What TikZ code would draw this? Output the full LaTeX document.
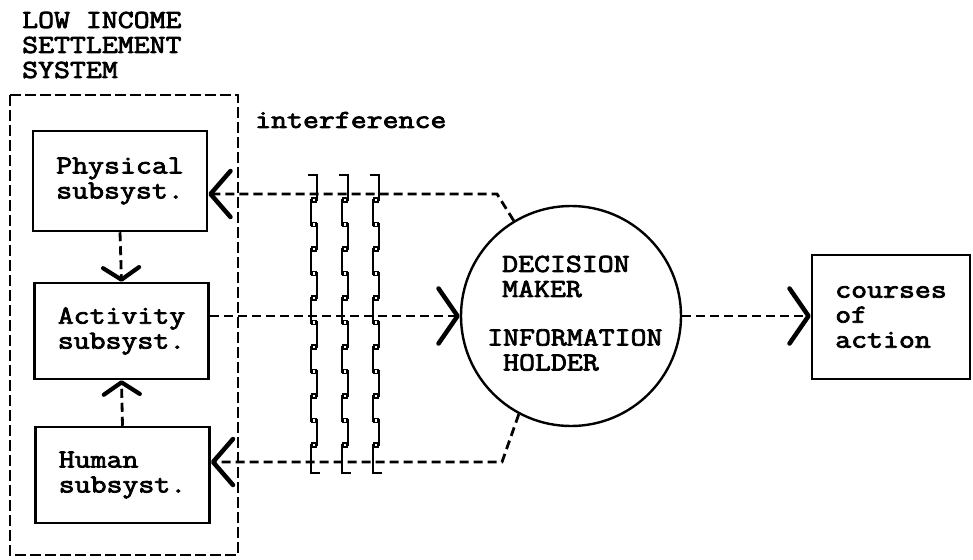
\documentclass[tikz,border=0pt]{standalone}
\usepackage{fontspec}
\newfontfamily\tw{Latin Modern Mono}[FakeStretch=1.19,FakeBold=3]
\usetikzlibrary{arrows.meta}
\begin{document}
\begin{tikzpicture}[x=1pt,y=-1pt,
  twf/.style={font=\tw\fontsize{26pt}{25pt}\selectfont},
  lbl/.style={twf, inner sep=0pt, align=left, anchor=west},
  sbox/.style={draw, line width=2.5pt, minimum width=174pt, inner sep=0pt, twf, align=left},
  conn/.style={line width=2.8pt, dash pattern=on 9pt off 5pt},
  strip/.style={line width=2.8pt, line join=miter},
  tipL/.style={-{Straight Barb[length=20pt,width=46pt,line width=4.5pt,round]}},
  tipC/.style={-{Straight Barb[length=19pt,width=55pt,line width=4.5pt,round]}},
  tipV/.style={-{Straight Barb[length=12pt,width=36pt,line width=4.2pt,round]}}
]
\useasboundingbox (0,0) rectangle (973,559);
% outer dashed system boundary
\draw[line width=2.4pt, dash pattern=on 11pt off 4pt] (10,95) rectangle (238,555);
\node[lbl] (lis) at (22,45) {LOW INCOME\\SETTLEMENT\\SYSTEM};
\node[lbl] (intf) at (255,120) {interference};
% subsystems
\node[sbox, minimum height=100pt] (phys) at (120,181) {Physical\\subsyst.};
\node[sbox, minimum height=96pt] (act) at (121.5,331) {Activity\\subsyst.};
\node[sbox, minimum height=96pt] (hum) at (122.5,475) {Human\\subsyst.};
% decision maker
\node[circle, draw, line width=2.4pt, minimum size=220pt, inner sep=0pt] (dm) at (571,316) {};
\node[lbl] (dmt) at (502,276.5) {DECISION\\MAKER};
\node[lbl] (iht) at (487,350) {INFORMATION\\\phantom{I}HOLDER};
% courses of action
\node[sbox, minimum width=158pt, minimum height=124pt] (co) at (891,317) {courses\\of\\action};
% connectors
\coordinate (tl) at (497,194);
\coordinate (bl) at (502,462);
\draw[conn, tipL] (dm.121.7) -- (tl) -- (tl -| phys.east);
\draw[conn, tipL] (dm.242.3) -- (bl) -- (bl -| hum.east);
\draw[conn, tipC] (act.east |- dm.west) -- (dm.west);
\draw[conn, tipC] (dm.east) -- (dm.east -| co.west);
\draw[conn, tipV] (phys.south) -- (act.north);
\draw[conn, tipV] (hum.north) -- (act.south);
% interference strips
\foreach \xl in {311,342,373}{
  \draw[strip] (\xl-3,175) -- (\xl+6,175)
    \foreach \j in {0,...,4}{ -- (\xl+6,200+49*\j) -- (\xl,200+49*\j) -- (\xl,224.5+49*\j) -- (\xl+6,224.5+49*\j)}
    -- (\xl+6,445) -- (\xl,445) -- (\xl,473) -- (\xl+9,473);
  \foreach \k in {0,...,10}
    \draw[line width=1.3pt, fill=white] (\xl+1,198+24.5*\k) rectangle (\xl+5,202+24.5*\k);
}
\end{tikzpicture}
\end{document}
